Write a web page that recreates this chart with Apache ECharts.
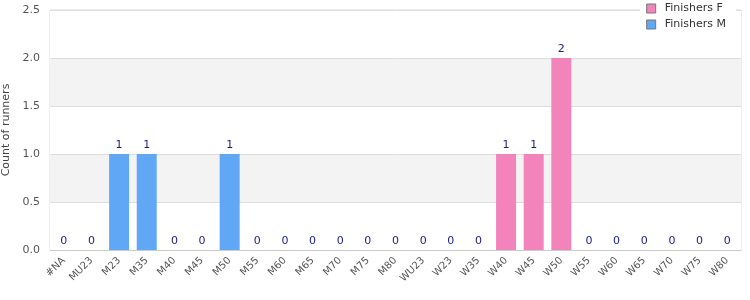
<!DOCTYPE html>
<html><head><meta charset="utf-8">
<script src="https://cdn.jsdelivr.net/npm/echarts@6/dist/echarts.min.js"></script>
<style>html,body{margin:0;padding:0;background:#fff}#c{width:750px;height:300px}</style>
</head><body><div id="c"></div>
<script>
var categories = ['#NA','MU23','M23','M35','M40','M45','M50','M55','M60','M65','M70','M75','M80','WU23','W23','W35','W40','W45','W50','W55','W60','W65','W70','W75','W80'];
var finishersF = [0,0,0,0,0,0,0,0,0,0,0,0,0,0,0,0,1,1,2,0,0,0,0,0,0];
var finishersM = [0,0,1,1,0,0,1,0,0,0,0,0,0,0,0,0,0,0,0,0,0,0,0,0,0];
var yTicks = [0, 0.5, 1.0, 1.5, 2.0, 2.5];
var totals = categories.map(function(c,i){return finishersF[i]+finishersM[i];});
var font = 'DejaVu Sans';
var chart = echarts.init(document.getElementById('c'), null, {renderer:'canvas'});
chart.setOption({
  animation:false,
  textStyle:{fontFamily:font},
  grid:{left:50,right:9,top:10,bottom:50,outerBoundsMode:'none',containLabel:false,show:true,borderColor:'#dddddd',borderWidth:1,backgroundColor:'transparent'},
  legend:{orient:'vertical',right:14,top:1,itemWidth:9,itemHeight:9,itemGap:5,backgroundColor:'#fff',padding:[2,10,2,6],
    textStyle:{fontFamily:font,fontSize:11,color:'#333',padding:[0,0,0,4]},icon:'rect',
    data:[{name:'Finishers F',itemStyle:{borderColor:'#777',borderWidth:1}},{name:'Finishers M',itemStyle:{borderColor:'#777',borderWidth:1}}]},
  xAxis:{type:'category',data:categories,
    axisLine:{lineStyle:{color:'#cccccc'}},axisTick:{show:false},
    axisLabel:{rotate:45,interval:0,fontSize:10,color:'#555',fontFamily:font,margin:9}},
  yAxis:{type:'value',min:0,max:2.5,interval:0.5,name:'Count of runners',nameLocation:'middle',nameGap:36,
    nameTextStyle:{fontFamily:font,fontSize:11,color:'#444'},
    axisLine:{show:false},axisTick:{show:false},
    axisLabel:{fontSize:11,color:'#555',fontFamily:font,margin:10,formatter:function(v){return v.toFixed(1);}},
    splitLine:{lineStyle:{color:'#dddddd'}},
    splitArea:{show:true,areaStyle:{color:['#ffffff','#f3f3f3']}}},
  series:[
    {name:'Finishers F',type:'bar',stack:'a',data:finishersF,barWidth:20,itemStyle:{color:'#f283bb'}},
    {name:'Finishers M',type:'bar',stack:'a',data:finishersM,barWidth:20,itemStyle:{color:'#60a8f5'},
      label:{show:true,position:'top',color:'#1a1a8c',fontSize:11,fontFamily:font,distance:3,
        formatter:function(p){return totals[p.dataIndex];}}}
  ]
});
</script></body></html>
